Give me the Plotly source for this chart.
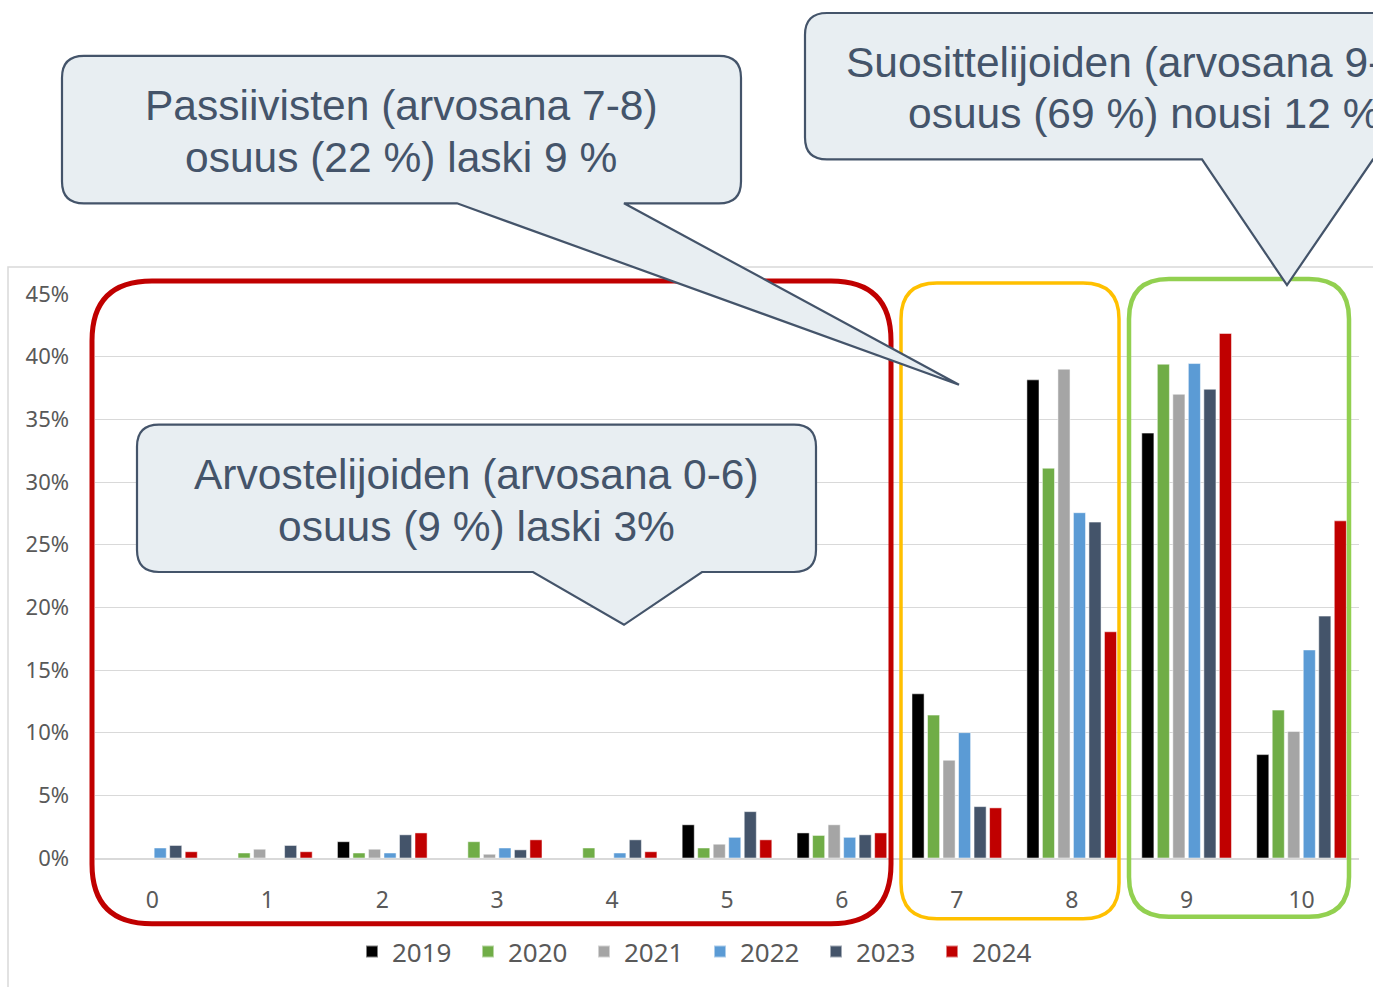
import plotly.graph_objects as go

# arvosanat 0-10 ja vuosittaiset osuudet (%)
categories = ["0", "1", "2", "3", "4", "5", "6", "7", "8", "9", "10"]
years = ["2019", "2020", "2021", "2022", "2023", "2024"]
y2019 = [0, 0, 1.3, 0, 0, 2.65, 2.0, 13.1, 38.15, 33.9, 8.25]
y2020 = [0, 0.4, 0.4, 1.3, 0.8, 0.8, 1.8, 11.4, 31.1, 39.4, 11.8]
y2021 = [0, 0.7, 0.7, 0.3, 0, 1.1, 2.65, 7.8, 39.0, 37.0, 10.1]
y2022 = [0.8, 0, 0.4, 0.8, 0.4, 1.65, 1.65, 10.0, 27.55, 39.45, 16.6]
y2023 = [1.0, 1.0, 1.85, 0.65, 1.45, 3.7, 1.85, 4.1, 26.8, 37.4, 19.3]
y2024 = [0.5, 0.5, 2.0, 1.45, 0.5, 1.45, 2.0, 4.0, 18.05, 41.85, 26.9]
colors = ["#000000", "#70AD47", "#A5A5A5", "#5B9BD5", "#44546A", "#C00000"]

W, H = 1373, 987
L, R, T, B = 95, 1359, 294, 860


def px(x, y):
    # pikselit -> paper-koordinaatit
    return (x - L) / (R - L), (B - y) / (B - T)


def path(cmds):
    out = ""
    for c in cmds:
        op, pts = c[0], c[1:]
        out += op
        for i in range(0, len(pts), 2):
            xx, yy = px(pts[i], pts[i + 1])
            out += f"{xx:.5f},{yy:.5f} "
    return out + "Z"


def rrect(x0, y0, x1, y1, r, tip=None):
    cmds = [("M", x0 + r, y0), ("L", x1 - r, y0), ("Q", x1, y0, x1, y0 + r),
            ("L", x1, y1 - r), ("Q", x1, y1, x1 - r, y1)]
    if tip:
        bl, br, tx, ty = tip
        cmds += [("L", br, y1), ("L", tx, ty), ("L", bl, y1)]
    cmds += [("L", x0 + r, y1), ("Q", x0, y1, x0, y1 - r),
             ("L", x0, y0 + r), ("Q", x0, y0, x0 + r, y0)]
    return path(cmds)


fig = go.Figure()
for name, vals, col in zip(years, [y2019, y2020, y2021, y2022, y2023, y2024], colors):
    fig.add_trace(go.Bar(x=categories, y=vals, name=name, marker_color=col,
                         marker_line=dict(color="rgba(255,255,255,0.5)", width=1)))

shapes = []
# ulkoreunus
x0, y0 = px(8, 267)
x1, y1 = px(1390, 1000)
shapes.append(dict(type="rect", xref="paper", yref="paper", x0=x0, y0=y0, x1=x1, y1=y1,
                   line=dict(color="#D9D9D9", width=1.5), layer="below"))
# ryhmien kehykset
shapes.append(dict(type="path", xref="paper", yref="paper", path=rrect(92, 281, 891, 926, 60),
                   line=dict(color="#C00000", width=5)))
shapes.append(dict(type="path", xref="paper", yref="paper", path=rrect(901, 283, 1119, 921, 36),
                   line=dict(color="#FFC000", width=3.5)))
shapes.append(dict(type="path", xref="paper", yref="paper", path=rrect(1129, 279, 1349, 919, 40),
                   line=dict(color="#92D050", width=4.5)))
# puhekuplat
bubble = dict(type="path", xref="paper", yref="paper", fillcolor="#E8EEF2",
              line=dict(color="#44546A", width=2.2))
shapes.append(dict(bubble, path=rrect(62, 55, 741, 203, 22, (457, 624, 959, 385))))
shapes.append(dict(bubble, path=rrect(805, 12, 1480, 159, 22, (1202, 1373, 1287, 285))))
shapes.append(dict(bubble, path=rrect(137, 425, 816, 573, 22, (533, 702, 624, 626))))

bubble_lines = [
    (401, 105, "Passiivisten (arvosana 7-8)"),
    (401, 157, "osuus (22 %) laski 9 %"),
    (1145, 62, "Suosittelijoiden (arvosana 9-10)"),
    (1144, 113, "osuus (69 %) nousi 12 %"),
    (476, 475, "Arvostelijoiden (arvosana 0-6)"),
    (476, 527, "osuus (9 %) laski 3%"),
]
annotations = []
for cx, cy, txt in bubble_lines:
    ax, ay = px(cx, cy)
    annotations.append(dict(x=ax, y=ay, xref="paper", yref="paper", text=txt, showarrow=False,
                            xanchor="center", yanchor="middle",
                            font=dict(family="Liberation Sans, Arial", size=42.5, color="#44546A")))

lx, ly = px(352, 954)
fig.update_layout(
    width=W, height=H,
    margin=dict(l=L, r=W - R, t=T, b=H - B),
    plot_bgcolor="white", paper_bgcolor="white",
    barmode="group", bargap=0.19, bargroupgap=0.22,
    font=dict(family="Noto Sans, Open Sans", color="#595959"),
    shapes=shapes, annotations=annotations,
    legend=dict(orientation="h", x=lx, y=ly, xanchor="left", yanchor="middle",
                font=dict(size=26, color="#595959"), entrywidth=71, entrywidthmode="pixels",
                itemsizing="constant"),
)
fig.update_yaxes(range=[0, 45], dtick=5, ticksuffix="%", showgrid=True, gridcolor="#D9D9D9",
                 gridwidth=1.2, zeroline=False, showline=False, tickfont=dict(size=22, color="#595959"),
                 ticklabelstandoff=25)
fig.update_xaxes(showline=True, linecolor="#D9D9D9", linewidth=1.5, tickfont=dict(size=23, color="#595959"),
                 ticklabelstandoff=21)

fig.write_html("out.html", config={"displayModeBar": False},
               post_script="document.body.style.margin='0px';")
